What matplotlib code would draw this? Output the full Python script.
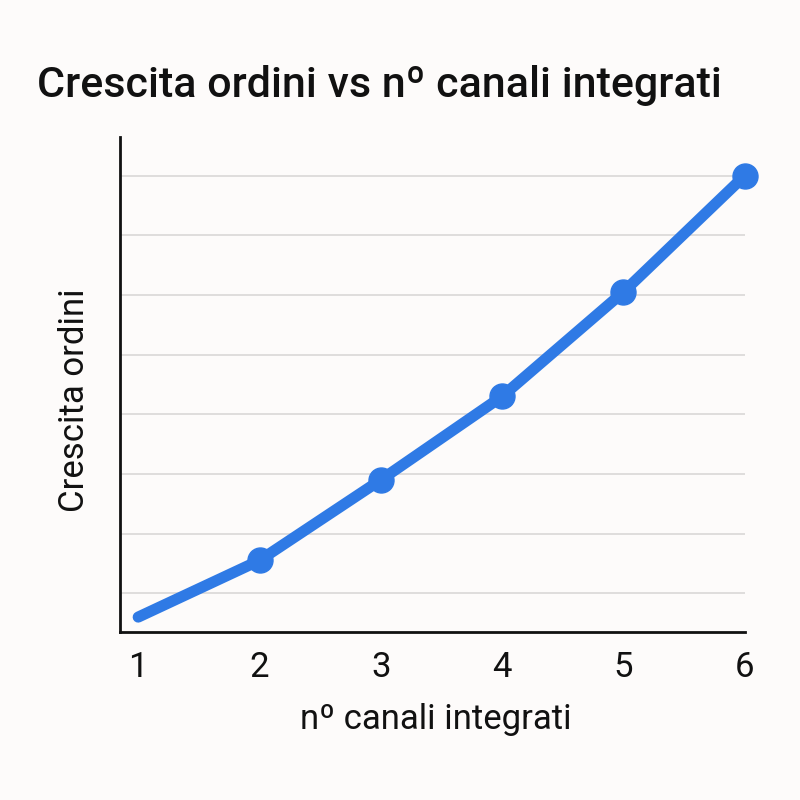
import matplotlib
matplotlib.use("Agg")
import matplotlib.pyplot as plt

canali = [1, 2, 3, 4, 5, 6]
crescita = [0.6, 1.55, 2.9, 4.3, 6.05, 8.0]
tick_labels = ["1", "2", "3", "4", "5", "6"]

plt.rcParams['font.family'] = ['Roboto', 'DejaVu Sans']
bg = '#fdfbfa'
blue = '#2f7ae5'

fig = plt.figure(figsize=(8, 8), dpi=100, facecolor=bg)
ax = fig.add_axes([0.15, 0.21, 0.781, 0.619], facecolor=bg)

ax.plot(canali, crescita, color=blue, lw=8, solid_capstyle='round',
        solid_joinstyle='round', marker='o', markersize=18,
        markevery=[1, 2, 3, 4, 5], clip_on=False, zorder=3)

ax.set_xlim(0.85, 6.0)
ax.set_ylim(0.35, 8.65)
ax.set_xticks(canali)
ax.set_xticklabels(tick_labels, fontsize=25)
ax.set_yticks([1, 2, 3, 4, 5, 6, 7, 8])
ax.set_yticklabels([])
ax.tick_params(axis='both', length=0)
ax.tick_params(axis='x', pad=14, colors='#111111')
ax.grid(axis='y', color='#d9d7d6', lw=1.2)
ax.grid(axis='x', visible=False)
for s in ['top', 'right']:
    ax.spines[s].set_visible(False)
for s in ['left', 'bottom']:
    ax.spines[s].set_linewidth(2)
    ax.spines[s].set_color('#111111')

ax.set_xlabel("nº canali integrati", fontsize=25, color='#111111')
ax.xaxis.set_label_coords(0.505, -0.143)
ax.set_ylabel("Crescita ordini", fontsize=25, color='#111111')
ax.yaxis.set_label_coords(-0.047, 0.469)

fig.text(0.046, 0.893, "Crescita ordini vs nº canali integrati", fontsize=31,
         fontweight='medium', va='center', ha='left', color='#111111')

fig.savefig("out.png", dpi=100, facecolor=bg)
